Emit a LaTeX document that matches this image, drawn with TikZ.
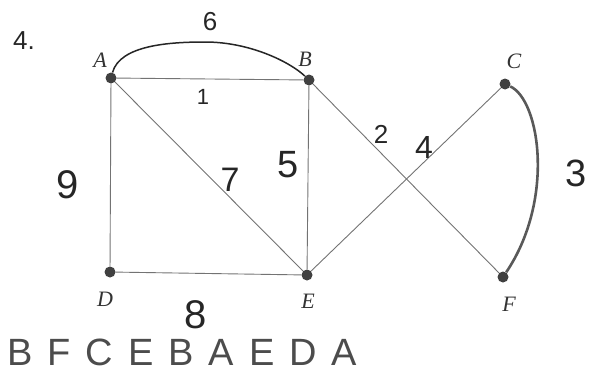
\documentclass[tikz,border=0pt]{standalone}
\usepackage{fontspec}
\setmainfont{Liberation Serif}
\newfontfamily\handfont{Liberation Sans}
\begin{document}
\begin{tikzpicture}[x=1pt,y=-1pt,
  vtx/.style={circle,fill=black!75,inner sep=0pt,minimum size=11pt},
  edge/.style={draw=black!55,line width=0.9pt},
  vlab/.style={font=\fontsize{22}{22}\selectfont\itshape,text=black!80},
  wlab/.style={font=\handfont\fontsize{#1}{#1}\selectfont,text=black!85},
  wlab/.default=28]
\useasboundingbox (0,0) rectangle (589,383);
\node[vtx] (A) at (111,78) {};
\node[vtx] (B) at (309,80) {};
\node[vtx] (C) at (505,84) {};
\node[vtx] (D) at (110,272) {};
\node[vtx] (E) at (307,275) {};
\node[vtx] (F) at (503,277) {};
\node[vlab] (lA) at (100,60) {A};
\node[vlab] (lB) at (305,59) {B};
\node[vlab] (lC) at (514,61) {C};
\node[vlab] (lD) at (105,299) {D};
\node[vlab] (lE) at (308,301) {E};
\node[vlab] (lF) at (509,304) {F};
\node[font=\handfont\fontsize{26}{26}\selectfont,text=black!85] (num) at (24,41) {4.};
\draw[edge] (A) -- (B);
\draw[edge] (A) -- (D);
\draw[edge] (A) -- (E);
\draw[edge] (B) -- (E);
\draw[edge] (D) -- (E);
\draw[edge] (B) -- (F);
\draw[edge] (E) -- (C);
\draw[black!85,line width=1.5pt] (A) .. controls (120,45) and (170,42) .. (205,42) .. controls (250,42) and (290,62) .. (B);
\draw[black!65,line width=2.6pt] (C) .. controls (540,100) and (555,200) .. (F);
\node[wlab=26] (w6) at (210,22) {6};
\node[wlab=22] (w1) at (203,97) {1};
\node[wlab=40] (w9) at (68,185) {9};
\node[wlab=34] (w7) at (230,180) {7};
\node[wlab=38] (w5) at (288,165) {5};
\node[wlab=26] (w2) at (381,134) {2};
\node[wlab=32] (w4) at (424,147) {4};
\node[wlab=38] (w3) at (576,173) {3};
\node[wlab=40] (w8) at (196,315) {8};
\node[font=\handfont\fontsize{38}{38}\selectfont,text=black!70,anchor=west,inner sep=0pt] (path) at (7,352) {B\hspace{15pt}F\hspace{15pt}C\hspace{15pt}E\hspace{15pt}B\hspace{15pt}A\hspace{15pt}E\hspace{15pt}D\hspace{15pt}A};
\end{tikzpicture}
\end{document}
